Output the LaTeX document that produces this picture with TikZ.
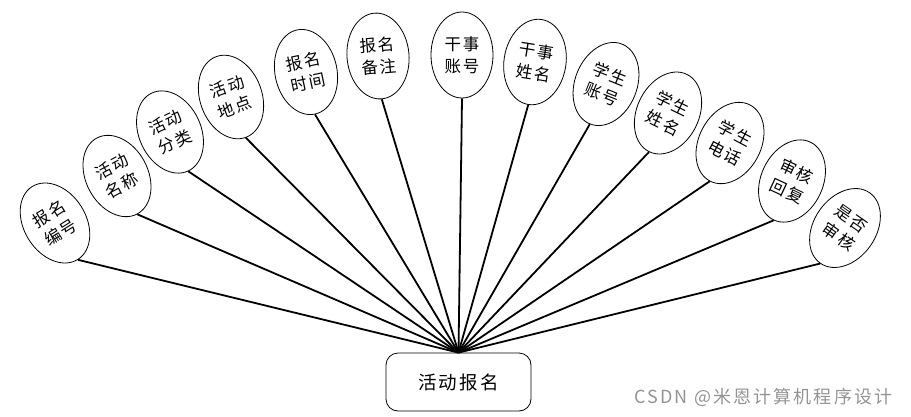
\documentclass[tikz,border=0pt]{standalone}
\usepackage{fontspec}
\setmainfont[LetterSpace=12]{Noto Sans CJK SC}
\usetikzlibrary{shapes.geometric}
\begin{document}
\begin{tikzpicture}[x=1pt,y=-1pt,
  attr/.style={ellipse,draw,line width=0.8pt,minimum width=62pt,minimum height=86pt,inner sep=0pt,align=center,font=\fontsize{16.5}{22}\selectfont},
  link/.style={line width=1.8pt},
  ent/.style={rounded corners=12pt,draw,line width=0.8pt,minimum width=145pt,minimum height=58pt,inner sep=0pt,font=\fontsize{18.5}{22}\selectfont},
  mark text/.style={text=black!42,font=\fontsize{18}{20}\selectfont}]
\useasboundingbox (0,0) rectangle (911,416);
\node[ent] (e) at (458.5,382) {活动报名};
\node[attr,rotate=32]  (a1)  at (55,223)  {报名\\编号};
\node[attr,rotate=28]  (a2)  at (117,176) {活动\\名称};
\node[attr,rotate=25]  (a3)  at (170,132) {活动\\分类};
\node[attr,rotate=20]  (a4)  at (231,97)  {活动\\地点};
\node[attr,rotate=12]  (a5)  at (306,72)  {报名\\时间};
\node[attr,rotate=5]   (a6)  at (378,56)  {报名\\备注};
\node[attr]            (a7)  at (462,55)  {干事\\账号};
\node[attr,rotate=-9]  (a8)  at (535,62)  {干事\\姓名};
\node[attr,rotate=-22] (a9)  at (606,84)  {学生\\账号};
\node[attr,rotate=-26] (a10) at (668,113) {学生\\姓名};
\node[attr,rotate=-28] (a11) at (730,143) {学生\\电话};
\node[attr,rotate=-25] (a12) at (792,181) {审核\\回复};
\node[attr,rotate=-35] (a13) at (845,228) {是否\\审核};
\foreach \i in {1,...,13} \draw[link] (a\i.south) -- (e.north);
\node[mark text,anchor=east] (wm) at (896,397) {CSDN @米恩计算机程序设计};
\end{tikzpicture}
\end{document}
